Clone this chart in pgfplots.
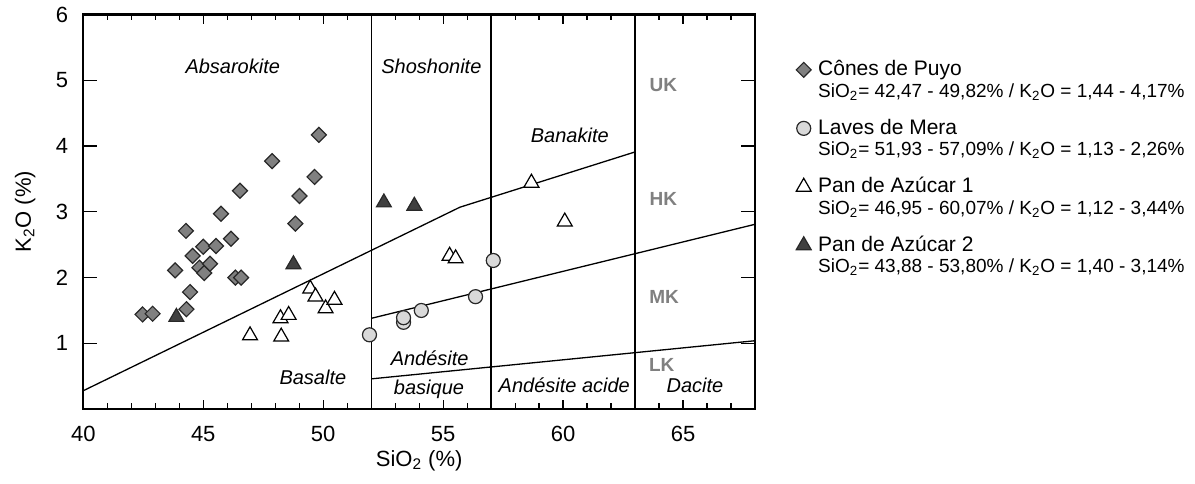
\documentclass[border=0pt]{standalone}
\usepackage{pgfplots}
\pgfplotsset{compat=1.18}
\usepackage{fontspec}
\setmainfont{Liberation Sans}
\definecolor{diam}{RGB}{128,128,128}
\definecolor{circ}{RGB}{217,217,217}
\definecolor{dtri}{RGB}{64,64,64}
\definecolor{lab}{RGB}{128,128,128}
\definecolor{edge}{RGB}{40,40,40}
\newcommand{\mainstrut}{\rule[-3pt]{0pt}{12pt}}
\newcommand{\substrut}{\rule[-9.5pt]{0pt}{17.25pt}}
\begin{document}
\begin{tikzpicture}
\begin{axis}[
  name=ax,
  width=335.85pt, height=197.35pt, scale only axis,
  xmin=40, xmax=68, ymin=0, ymax=6,
  xtick={40,45,...,65}, ytick={1,...,6},
  minor xtick={41,42,43,44,46,47,48,49,51,52,53,54,56,57,58,59,61,62,63,64,66,67},
  major tick length=4.7pt, minor tick length=3pt,
  tick style={black, line width=0.6pt},
  ytick style={/pgfplots/major tick length=7pt},
  axis line style={line width=1.2pt},
  tick label style={font=\fontsize{11}{13}\selectfont},
  /pgf/number format/assume math mode=true,
  xticklabel style={yshift=-5pt},
  yticklabel style={xshift=-4pt},
  xlabel={SiO\textsubscript{2} (\%)},
  ylabel={K\textsubscript{2}O (\%)},
  every axis x label/.style={at={(axis description cs:0.5,0)}, anchor=north, yshift=-17pt, font=\fontsize{11}{13}\selectfont},
  every axis y label/.style={at={([xshift=-29pt]axis description cs:0,0.5)}, rotate=90, anchor=center, font=\fontsize{11}{13}\selectfont},
  legend style={at={(axis description cs:1,1)}, anchor=north west, xshift=19.9pt, yshift=-21.5pt,
    draw=none, fill=none, inner sep=0pt, nodes={inner sep=0pt, text depth=}, column sep=3.5pt, row sep=0pt,
    cells={anchor=west}},
  legend image code/.code={\draw[mark repeat=2,mark phase=2,#1] plot coordinates {(0cm,0cm) (0.15cm,0cm) (0.3cm,0cm)};},
  clip=false,
]
% boundary lines
\addplot[forget plot, black, line width=0.65pt] coordinates {(52,0) (52,6)};
\addplot[forget plot, black, line width=0.65pt] coordinates {(57,0) (57,6)};
\addplot[forget plot, black, line width=0.65pt] coordinates {(63,0) (63,6)};
\addplot[forget plot, black, line width=0.65pt] coordinates {(40,0.28) (55.7,3.07) (63,3.91)};
\addplot[forget plot, black, line width=0.65pt] coordinates {(52,1.38) (68,2.81)};
\addplot[forget plot, black, line width=0.65pt] coordinates {(52,0.46) (68,1.04)};

% region labels
\begin{scope}[every node/.style={anchor=base, font=\fontsize{10}{12}\selectfont\itshape}]
\node at (axis cs:46.23,5.11) {Absarokite};
\node at (axis cs:54.51,5.11) {Shoshonite};
\node at (axis cs:60.28,4.06) {Banakite};
\node at (axis cs:49.57,0.375) {Basalte};
\node at (axis cs:54.44,0.67) {Andésite};
\node at (axis cs:54.41,0.22) {basique};
\node at (axis cs:60.05,0.25) {Andésite acide};
\node at (axis cs:65.50,0.25) {Dacite};
\end{scope}
\begin{scope}[every node/.style={anchor=base, text=lab, font=\fontsize{9.5}{11}\selectfont\bfseries}]
\node at (axis cs:64.18,4.83) {UK};
\node at (axis cs:64.18,3.10) {HK};
\node at (axis cs:64.21,1.60) {MK};
\node at (axis cs:64.11,0.57) {LK};
\end{scope}

% Cônes de Puyo
\addplot[only marks, mark=square*, mark size=2.65pt, mark options={rotate=45, fill=diam, draw=edge, line width=0.6pt}] coordinates {
(42.47,1.44) (42.89,1.45) (44.30,1.52) (44.45,1.78) (43.83,2.11) (44.28,2.71)
(44.56,2.33) (45.00,2.47) (44.84,2.15) (45.04,2.07) (45.28,2.21) (45.53,2.48)
(45.74,2.97) (46.16,2.59) (46.34,2.00) (46.58,2.00) (46.53,3.32) (47.87,3.77)
(48.84,2.82) (49.01,3.24) (49.64,3.53) (49.82,4.17)
};
\addlegendentry{\fontsize{10.5}{12}\selectfont\mainstrut Cônes de Puyo}
\addlegendimage{empty legend}
\addlegendentry{\fontsize{9.5}{11}\selectfont\substrut SiO\textsubscript{2}= 42,47 - 49,82\% / K\textsubscript{2}O = 1,44 - 4,17\%}

% Laves de Mera
\addplot[only marks, mark=*, mark size=3.5pt, mark options={fill=circ, draw=edge, line width=0.6pt}] coordinates {
(51.93,1.13) (53.35,1.32) (53.35,1.39) (54.09,1.50) (56.35,1.71) (57.09,2.26)
};
\addlegendentry{\fontsize{10.5}{12}\selectfont\mainstrut Laves de Mera}
\addlegendimage{empty legend}
\addlegendentry{\fontsize{9.5}{11}\selectfont\substrut SiO\textsubscript{2}= 51,93 - 57,09\% / K\textsubscript{2}O = 1,13 - 2,26\%}

% Pan de Azúcar 1
\addplot[only marks, mark=triangle*, mark size=4.3pt, mark options={fill=white, draw=black, line width=0.6pt}] coordinates {
(46.95,1.12) (48.25,1.10) (48.22,1.38) (48.56,1.43) (49.46,1.83) (49.68,1.71)
(50.10,1.53) (50.47,1.66) (55.27,2.33) (55.52,2.29) (58.68,3.44) (60.07,2.85)
};
\addlegendentry{\fontsize{10.5}{12}\selectfont\mainstrut Pan de Azúcar 1}
\addlegendimage{empty legend}
\addlegendentry{\fontsize{9.5}{11}\selectfont\substrut SiO\textsubscript{2}= 46,95 - 60,07\% / K\textsubscript{2}O = 1,12 - 3,44\%}

% Pan de Azúcar 2
\addplot[only marks, mark=triangle*, mark size=4.3pt, mark options={fill=dtri, draw=edge, line width=0.6pt}] coordinates {
(43.88,1.40) (48.76,2.20) (52.53,3.14) (53.80,3.09)
};
\addlegendentry{\fontsize{10.5}{12}\selectfont\mainstrut Pan de Azúcar 2}
\addlegendimage{empty legend}
\addlegendentry{\fontsize{9.5}{11}\selectfont\substrut SiO\textsubscript{2}= 43,88 - 53,80\% / K\textsubscript{2}O = 1,40 - 3,14\%}
\end{axis}
\path ([xshift=-41.65pt,yshift=-37pt]ax.south west) rectangle ([xshift=220pt,yshift=6.65pt]ax.north east);
\end{tikzpicture}
\end{document}
